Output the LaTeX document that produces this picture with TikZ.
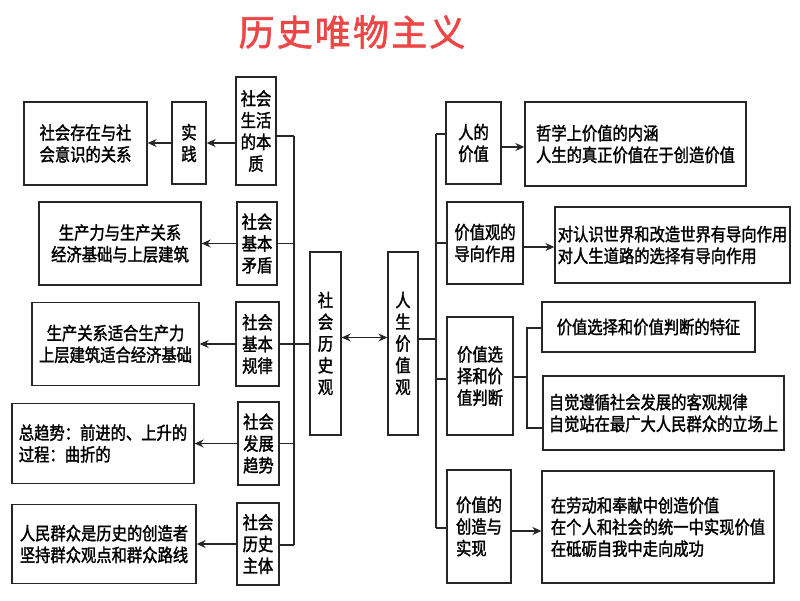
\documentclass[tikz,border=0pt]{standalone}
\usepackage{fontspec}
\usetikzlibrary{arrows.meta}
\newfontfamily\cjk[FakeStretch=0.85,FakeBold=1.6]{Noto Sans CJK SC}
\newfontfamily\titlefont[FakeBold=1.6,LetterSpace=6]{Noto Sans CJK SC}
\definecolor{titlered}{RGB}{236,70,70}
\begin{document}
\begin{tikzpicture}[x=1pt,y=-1pt,
  bx/.style={draw=black!85, line width=1.3pt, inner sep=0pt, align=center, text=black,
             font=\cjk\fontsize{18}{21.7}\selectfont},
  bxl/.style={bx, align=left},
  tip/.tip={Stealth[length=9pt,width=8pt,inset=3pt]},
  arr/.style={line width=1.3pt, draw=black!85, -tip},
  darr/.style={line width=1.3pt, draw=black!85, tip-tip},
  ln/.style={line width=1.3pt, draw=black!85}]
\useasboundingbox (0,0) rectangle (800,600);
\fill[white] (0,0) rectangle (800,600);

% title
\node[font=\titlefont\fontsize{36}{40}\selectfont, text=titlered] (title) at (352,32) {历史唯物主义};

% left side
\node[bx, minimum width=40pt, minimum height=108pt] (A1) at (256,131) {社会\\生活\\的本\\质};
\node[bx, minimum width=34pt, minimum height=82pt] (A2) at (189,143) {实\\践};
\node[bxl, minimum width=123pt, minimum height=83pt] (A3) at (85.5,143.5) {社会存在与社\\会意识的关系};

\node[bx, minimum width=40pt, minimum height=83pt] (B1) at (257,243.5) {社会\\基本\\矛盾};
\node[bx, minimum width=162pt, minimum height=83pt] (B2) at (120,243.5) {生产力与生产关系\\经济基础与上层建筑};

\node[bx, minimum width=43pt, minimum height=84pt] (C1) at (257.5,344) {社会\\基本\\规律};
\node[bx, minimum width=167pt, minimum height=83pt] (C2) at (115.5,344) {生产关系适合生产力\\上层建筑适合经济基础};

\node[bx, minimum width=41pt, minimum height=83pt] (D1) at (258.5,443.5) {社会\\发展\\趋势};
\node[bxl, minimum width=182pt, minimum height=80pt] (D2) at (103,443.5) {总趋势：前进的、上升的\\过程：曲折的};

\node[bx, minimum width=42pt, minimum height=82pt] (E1) at (258,544) {社会\\历史\\主体};
\node[bx, minimum width=184pt, minimum height=79pt] (E2) at (104,544) {人民群众是历史的创造者\\坚持群众观点和群众路线};

% centre
\node[bx, minimum width=31pt, minimum height=183pt] (S) at (325.5,343.5) {社\\会\\历\\史\\观};
\node[bx, minimum width=30pt, minimum height=183pt] (R) at (403,343.5) {人\\生\\价\\值\\观};

% right side
\node[bx, minimum width=55pt, minimum height=82pt] (P1) at (473.5,143) {人的\\价值};
\node[bxl, minimum width=221pt, minimum height=84pt] (P2) at (635.5,144) {哲学上价值的内涵\\人生的真正价值在于创造价值};

\node[bx, minimum width=76pt, minimum height=82pt] (Q1) at (485,243) {价值观的\\导向作用};
\node[bxl, minimum width=235pt, minimum height=76pt] (Q2) at (672.5,245) {对认识世界和改造世界有导向作用\\对人生道路的选择有导向作用};

\node[bx, minimum width=66pt, minimum height=118pt] (T1) at (480,376) {价值选\\择和价\\值判断};
\node[bx, minimum width=213pt, minimum height=50pt] (T2) at (648.5,327) {价值选择和价值判断的特征};
\node[bxl, minimum width=241pt, minimum height=74pt] (T3) at (663.5,413) {自觉遵循社会发展的客观规律\\自觉站在最广大人民群众的立场上};

\node[bxl, minimum width=64pt, minimum height=113pt] (U1) at (479,526.5) {价值的\\创造与\\实现};
\node[bxl, minimum width=232pt, minimum height=112pt] (U2) at (658,527) {在劳动和奉献中创造价值\\在个人和社会的统一中实现价值\\在砥砺自我中走向成功};

% left bus
\coordinate (lbt) at (294,136);
\coordinate (lbb) at (294,545);
\draw[ln] (lbt) -- (lbb);
\draw[ln] (A1.east |- lbt) -- (lbt);
\draw[ln] (B1.east) -- (B1.east -| lbt);
\draw[ln] (C1.east) -- (C1.east -| S.west);
\draw[ln] (D1.east) -- (D1.east -| lbt);
\draw[ln] (E1.east |- lbb) -- (lbb);

\draw[arr] (A1.west |- A2.east) -- (A2.east);
\draw[arr] (A2.west) -- (A2.west -| A3.east);
\draw[arr] (B1.west) -- (B1.west -| B2.east);
\draw[arr] (C1.west) -- (C1.west -| C2.east);
\draw[arr] (D1.west) -- (D1.west -| D2.east);
\draw[arr] (E1.west) -- (E1.west -| E2.east);

% centre double arrow
\draw[darr] ([yshift=6pt]S.east) -- ([yshift=6pt]R.west);

% right bus
\coordinate (rbt) at (436,134);
\coordinate (rbb) at (436,528);
\coordinate (rbm) at (436,339);
\draw[ln] (rbt) -- (rbb);
\draw[ln] (R.east |- rbm) -- (rbm);
\draw[ln] (rbt) -- (rbt -| P1.west);
\draw[ln] (Q1.west -| rbt) -- (Q1.west);
\draw[ln] (436,379) -- (T1.west |- 0,379);
\draw[ln] (rbb) -- (rbb -| U1.west);

\draw[arr] (P1.east |- 0,147) -- (P2.west |- 0,147);
\draw[arr] (Q1.east |- 0,247) -- (Q2.west |- 0,247);
\draw[arr] (U1.east |- 0,531) -- (U2.west |- 0,531);

% bracket
\coordinate (bt) at (527,328);
\coordinate (bb) at (527,428);
\draw[ln] (T1.east |- 0,377) -- (527,377);
\draw[ln] (T2.west |- bt) -- (bt) -- (bb) -- (bb -| T3.west);
\end{tikzpicture}
\end{document}
